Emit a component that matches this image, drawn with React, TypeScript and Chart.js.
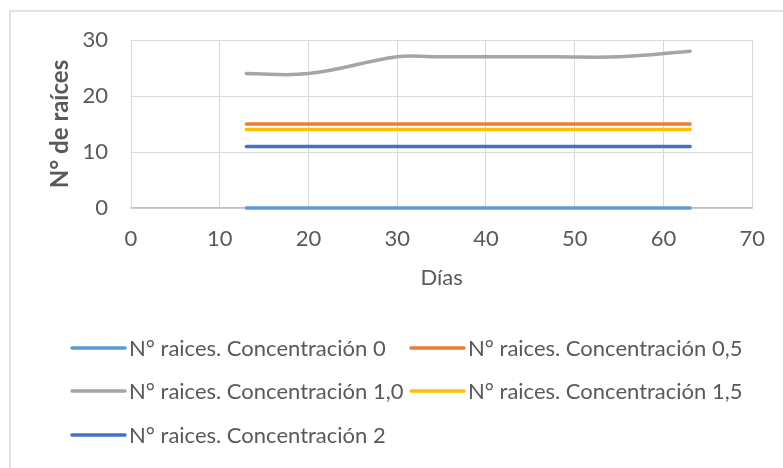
import React, { useEffect, useRef } from "react";
import { Chart, registerables } from "chart.js";

Chart.register(...registerables);

// Days of measurement
const dias = [13, 20, 30, 34, 41, 48, 55, 63];

// Number of roots per concentration
const conc0 = [0, 0, 0, 0, 0, 0, 0, 0];
const conc05 = [15, 15, 15, 15, 15, 15, 15, 15];
const conc10 = [24, 24, 27, 27, 27, 27, 27, 28];
const conc15 = [14, 14, 14, 14, 14, 14, 14, 14];
const conc2 = [11, 11, 11, 11, 11, 11, 11, 11];

const seriesLabels = [
  "N° raices. Concentración 0",
  "N° raices. Concentración 0,5",
  "N° raices. Concentración 1,0",
  "N° raices. Concentración 1,5",
  "N° raices. Concentración 2",
];
const seriesColors = ["#5B9BD5", "#ED7D31", "#A5A5A5", "#FFC000", "#4472C4"];
const seriesValues = [conc0, conc05, conc10, conc15, conc2];

const FONT = "Lato, 'Open Sans', sans-serif";
const TEXT = "#595959";

// Outer frame of the chart
const framePlugin = {
  id: "frame",
  beforeDraw(chart: Chart) {
    const ctx = chart.ctx;
    ctx.save();
    ctx.fillStyle = "#ffffff";
    ctx.fillRect(0, 0, chart.width, chart.height);
    ctx.strokeStyle = "#D9D9D9";
    ctx.lineWidth = 1.5;
    ctx.strokeRect(10, 11, chart.width + 20, chart.height + 20);
    ctx.restore();
  },
};

// Two-column legend below the plot
const legendPlugin = {
  id: "gridLegend",
  afterDraw(chart: Chart) {
    const ctx = chart.ctx;
    const rows = [348, 391, 435];
    const cols = [72, 411];
    ctx.save();
    ctx.font = `22px ${FONT}`;
    ctx.textBaseline = "middle";
    ctx.textAlign = "left";
    chart.data.datasets.forEach((ds: any, i: number) => {
      const x = cols[i % 2];
      const y = rows[Math.floor(i / 2)];
      ctx.strokeStyle = ds.borderColor;
      ctx.lineWidth = 3.5;
      ctx.lineCap = "round";
      ctx.beginPath();
      ctx.moveTo(x, y);
      ctx.lineTo(x + 53, y);
      ctx.stroke();
      ctx.fillStyle = TEXT;
      ctx.fillText(ds.label, x + 57, y + 1);
    });
    ctx.restore();
  },
};

export default function App() {
  const ref = useRef<HTMLCanvasElement | null>(null);

  useEffect(() => {
    if (!ref.current) return;
    const chart = new Chart(ref.current, {
      type: "line",
      data: {
        datasets: seriesValues.map((vals, i) => ({
          label: seriesLabels[i],
          data: dias.map((d, j) => ({ x: d, y: vals[j] })),
          borderColor: seriesColors[i],
          backgroundColor: seriesColors[i],
          borderWidth: 3.5,
          borderCapStyle: "round" as const,
          pointRadius: 0,
          tension: 0.4,
          fill: false,
          clip: 10,
        })),
      },
      options: {
        animation: false,
        responsive: false,
        devicePixelRatio: 1,
        layout: { padding: { left: 0, top: 40, right: 28, bottom: 170 } },
        plugins: {
          legend: { display: false },
          tooltip: { enabled: false },
        },
        scales: {
          x: {
            type: "linear",
            min: 0,
            max: 70,
            ticks: {
              stepSize: 10,
              padding: 18,
              color: TEXT,
              font: { family: FONT, size: 22 },
            },
            grid: { color: "#D9D9D9", drawTicks: false, lineWidth: 1 },
            border: { color: "#BFBFBF", width: 1.5 },
            title: {
              display: true,
              text: "Días",
              color: TEXT,
              font: { family: FONT, size: 22 },
              padding: { top: 0, bottom: 7 },
            },
            afterFit(scale: any) {
              scale.height = 90;
            },
          },
          y: {
            min: 0,
            max: 30,
            ticks: {
              stepSize: 10,
              padding: 23,
              color: TEXT,
              font: { family: FONT, size: 22 },
            },
            grid: { color: "#D9D9D9", drawTicks: false, lineWidth: 1 },
            border: { color: "#D9D9D9", width: 1 },
            title: {
              display: true,
              text: "N° de raíces",
              color: TEXT,
              font: { family: FONT, size: 24, weight: "bold" },
              padding: { top: 46, bottom: 0 },
            },
            afterFit(scale: any) {
              scale.width = 131;
            },
          },
        },
      },
      plugins: [framePlugin, legendPlugin],
    });
    return () => chart.destroy();
  }, []);

  return (
    <div style={{ position: "fixed", left: 0, top: 0, width: 783, height: 468, background: "#fff" }}>
      <canvas ref={ref} width={783} height={468} style={{ display: "block" }} />
    </div>
  );
}
